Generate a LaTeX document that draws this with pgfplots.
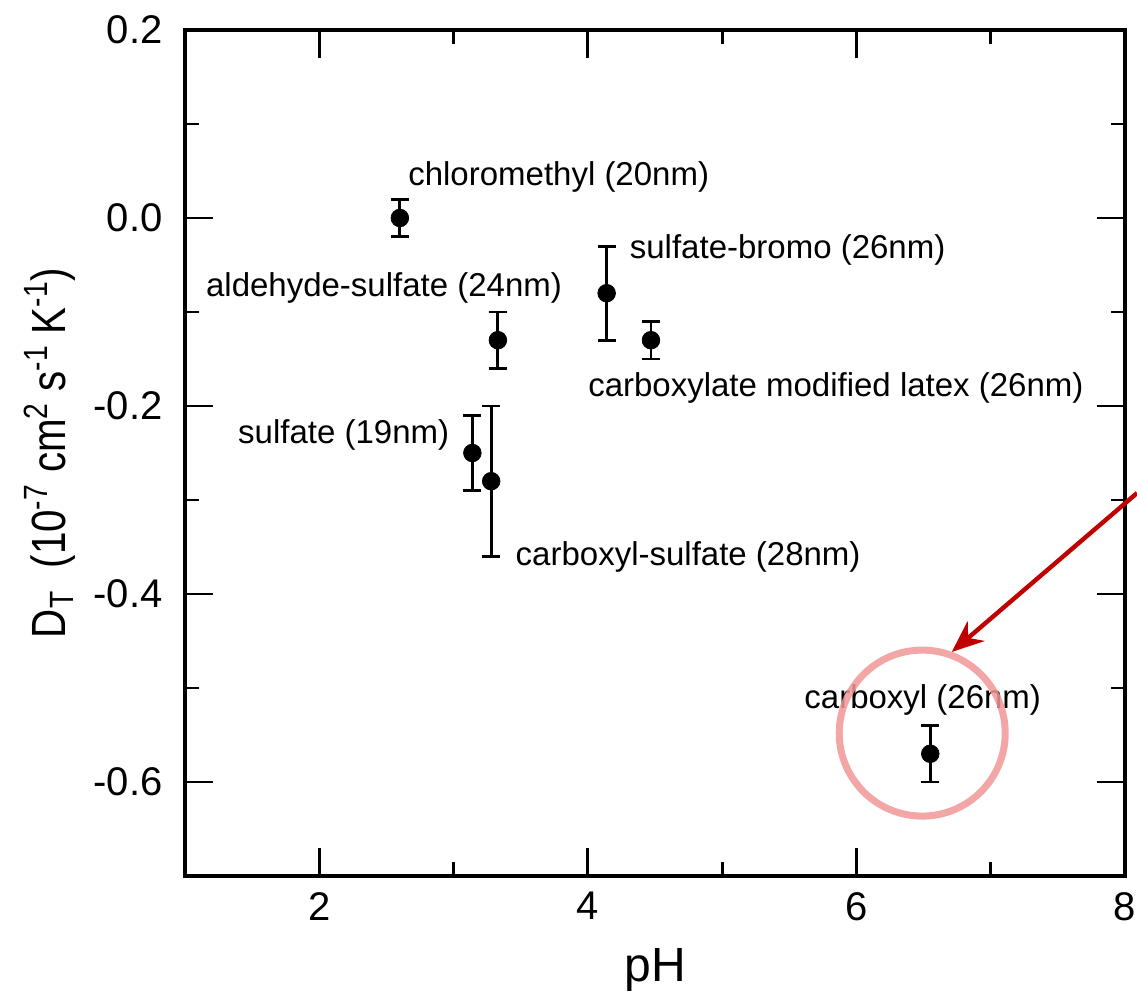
\documentclass[border=0pt]{standalone}
\usepackage{graphicx}
\usepackage{pgfplots}
\pgfplotsset{compat=1.18}
\usepackage{pgfplotstable}
\usepackage{fontspec}
\setmainfont{Liberation Sans}
\usetikzlibrary{arrows.meta}

\definecolor{arrowred}{RGB}{192,0,0}
\definecolor{circpink}{RGB}{240,150,150}

\pgfplotstableread{
x y e
2.60 0.00 0.02
3.33 -0.13 0.03
4.14 -0.08 0.05
4.47 -0.13 0.02
3.14 -0.25 0.04
3.28 -0.28 0.08
6.55 -0.57 0.03
}\dtdata

\begin{document}
\begin{tikzpicture}
\begin{axis}[
  name=ax,
  scale only axis,
  width=470pt, height=423pt,
  xmin=1, xmax=8, ymin=-0.7, ymax=0.2,
  clip=false,
  axis line style={line width=2pt},
  tick style={line width=1.4pt, black},
  major tick length=14pt, minor tick length=7pt,
  tick align=inside, tick pos=both, ticklabel pos=left,
  xtick={2,4,6,8}, xticklabels={2,4,6,8},
  minor xtick={3,5,7},
  ytick={-0.6,-0.4,-0.2,0,0.2},
  yticklabels={-0.6,-0.4,-0.2,0.0,0.2},
  minor ytick={-0.7,-0.5,-0.3,-0.1,0.1},
  ticklabel style={font=\fontsize{20}{24}\selectfont, inner sep=0pt},
  yticklabel style={anchor=east, xshift=-11pt},
  xticklabel style={anchor=north, yshift=-8pt},
  xlabel={pH},
  ylabel={\scalebox{0.84}[1]{D\textsubscript{T}\ \ (10\textsuperscript{-7} cm\textsuperscript{2} s\textsuperscript{-1} K\textsuperscript{-1})}},
  every axis x label/.style={at={(axis description cs:0.5,-0.1253)}, anchor=base, font=\fontsize{24}{28}\selectfont},
  every axis y label/.style={at={(axis description cs:-0.1436,0.5)}, anchor=center, rotate=90, font=\fontsize{24}{28}\selectfont},
]
\addplot[only marks, mark=*, mark size=4.4pt, black,
  error bars/.cd, y dir=both, y explicit,
  error bar style={line width=1.4pt, black},
  error mark options={rotate=90, mark size=4.5pt, line width=1.4pt, black}]
  table[x=x, y=y, y error=e] {\dtdata};

\begin{scope}[font=\fontsize{16.5}{20}\selectfont]
\node[anchor=west, inner sep=0pt] at (axis cs:2.66,0.0436) {chloromethyl (20nm)};
\node[anchor=west, inner sep=0pt] at (axis cs:4.31,-0.034) {sulfate-bromo (26nm)};
\node[anchor=east, inner sep=0pt] at (axis cs:3.81,-0.0745) {aldehyde-sulfate (24nm)};
\node[anchor=west, inner sep=0pt] at (axis cs:4.00,-0.181) {carboxylate modified latex (26nm)};
\node[anchor=east, inner sep=0pt] at (axis cs:2.97,-0.231) {sulfate (19nm)};
\node[anchor=west, inner sep=0pt] at (axis cs:3.46,-0.361) {carboxyl-sulfate (28nm)};
\node[anchor=west, inner sep=0pt] at (axis cs:5.61,-0.513) {carboxyl (26nm)};
\end{scope}

\draw[circpink, line width=3.5pt, opacity=0.85] (axis cs:6.49,-0.548) circle[radius=41.5pt];
\draw[arrowred, line width=2.2pt, -{Stealth[length=16pt,width=13pt]}] (axis cs:8.09,-0.2926) -- (axis cs:6.71,-0.4617);
\end{axis}
\pgfresetboundingbox
\path[use as bounding box] ([xshift=-92.5pt,yshift=-58pt]ax.south west) rectangle ([xshift=6pt,yshift=15pt]ax.north east);
\end{tikzpicture}
\end{document}
